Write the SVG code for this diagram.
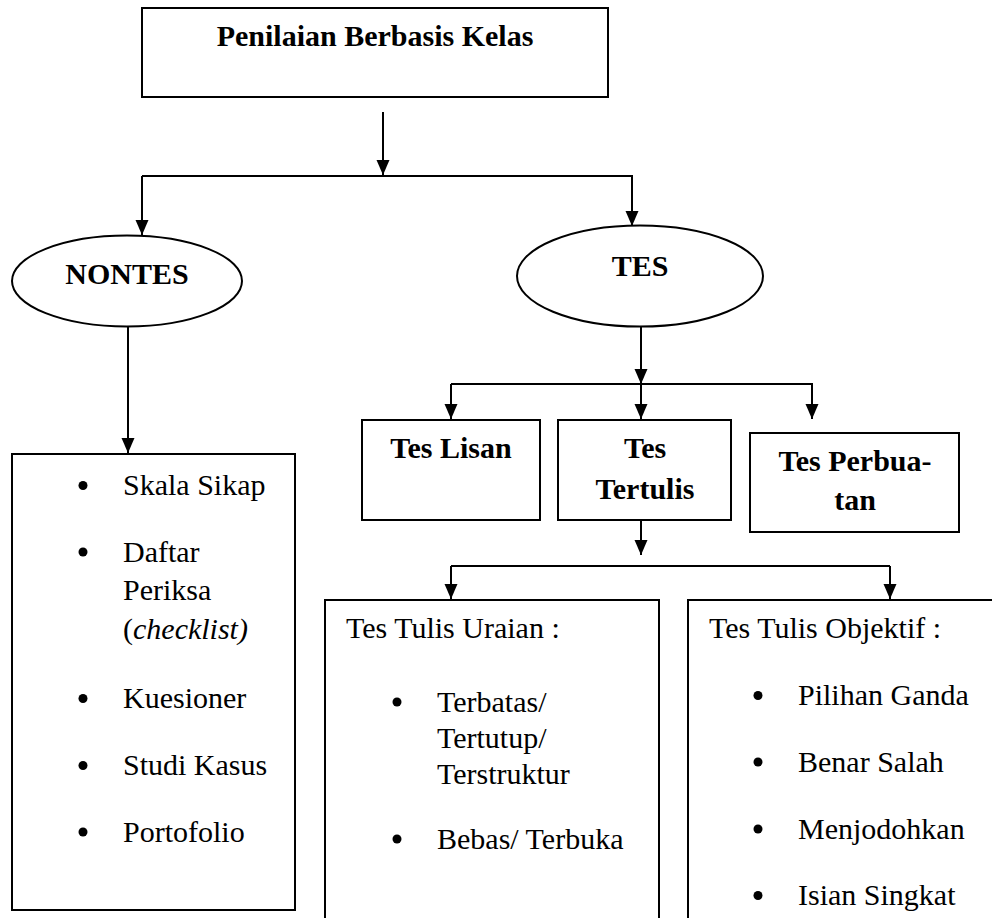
<svg xmlns="http://www.w3.org/2000/svg" width="992" height="918" viewBox="0 0 992 918">
<style>
.box{fill:#fff;stroke:#000;stroke-width:2}
.ell{fill:#fff;stroke:#000;stroke-width:2}
text{font-family:'Liberation Serif','Times New Roman',Times,'DejaVu Serif',serif;font-size:30px;fill:#000}
.b{font-weight:bold;text-anchor:middle}
.c{fill:none;stroke:#000;stroke-width:2}
.dot{fill:#000}
</style>
<defs>
<marker id="ah" markerWidth="16" markerHeight="14" refX="15" refY="6.5" orient="auto" markerUnits="userSpaceOnUse">
<path d="M0,0 L15,6.5 L0,13 z" fill="#000"/>
</marker>
</defs>
<rect width="992" height="918" fill="#fff"/>
<g id="connectors">
<line class="c" x1="383" y1="112" x2="383" y2="175" marker-end="url(#ah)"/>
<polyline class="c" points="142,176 632,176 632,226" marker-end="url(#ah)"/>
<line class="c" x1="142" y1="176" x2="142" y2="235" marker-end="url(#ah)"/>
<line class="c" x1="128" y1="327" x2="128" y2="453" marker-end="url(#ah)"/>
<line class="c" x1="641" y1="327" x2="641" y2="384" marker-end="url(#ah)"/>
<line class="c" x1="451" y1="384" x2="812" y2="384"/>
<line class="c" x1="451" y1="384" x2="451" y2="419" marker-end="url(#ah)"/>
<line class="c" x1="641" y1="384" x2="641" y2="419" marker-end="url(#ah)"/>
<line class="c" x1="812" y1="383" x2="812" y2="419" marker-end="url(#ah)"/>
<line class="c" x1="641" y1="520" x2="641" y2="555" marker-end="url(#ah)"/>
<line class="c" x1="451" y1="566" x2="890" y2="566"/>
<line class="c" x1="451" y1="566" x2="451" y2="599" marker-end="url(#ah)"/>
<line class="c" x1="890" y1="566" x2="890" y2="599" marker-end="url(#ah)"/>
</g>
<g id="penilaian">
<rect class="box" x="142" y="8" width="466" height="89"/>
<text class="b" x="375" y="46">Penilaian Berbasis Kelas</text>
</g>
<g id="nontes">
<ellipse class="ell" cx="127" cy="281" rx="115" ry="45.5"/>
<text class="b" x="127" y="284">NONTES</text>
</g>
<g id="tes">
<ellipse class="ell" cx="640" cy="276" rx="123" ry="50.5"/>
<text class="b" x="640" y="276">TES</text>
</g>
<g id="tes-lisan">
<rect class="box" x="362" y="420" width="178" height="100"/>
<text class="b" x="451" y="458">Tes Lisan</text>
</g>
<g id="tes-tertulis">
<rect class="box" x="558" y="420" width="173" height="100"/>
<text class="b" x="645" y="458">Tes</text>
<text class="b" x="645" y="499">Tertulis</text>
</g>
<g id="tes-perbuatan">
<rect class="box" x="750" y="433" width="209" height="99"/>
<text class="b" x="855" y="471">Tes Perbua-</text>
<text class="b" x="855" y="510">tan</text>
</g>
<g id="nontes-list">
<rect class="box" x="12" y="454" width="283" height="456"/>
<circle class="dot" cx="83" cy="485.5" r="4.5"/>
<text x="123" y="495">Skala Sikap</text>
<circle class="dot" cx="83" cy="552" r="4.5"/>
<text x="123" y="561.5">Daftar</text>
<text x="123" y="600">Periksa</text>
<text x="123" y="639">(<tspan font-style="italic">checklist)</tspan></text>
<circle class="dot" cx="83" cy="698.5" r="4.5"/>
<text x="123" y="708">Kuesioner</text>
<circle class="dot" cx="83" cy="765.5" r="4.5"/>
<text x="123" y="775">Studi Kasus</text>
<circle class="dot" cx="83" cy="832" r="4.5"/>
<text x="123" y="841.5">Portofolio</text>
</g>
<g id="tes-tulis-uraian">
<rect class="box" x="325" y="600" width="334" height="330"/>
<text x="346" y="638">Tes Tulis Uraian :</text>
<circle class="dot" cx="397" cy="702" r="4.5"/>
<text x="437" y="711.5">Terbatas/</text>
<text x="437" y="747.5">Tertutup/</text>
<text x="437" y="784">Terstruktur</text>
<circle class="dot" cx="397" cy="839" r="4.5"/>
<text x="437" y="848.5">Bebas/ Terbuka</text>
</g>
<g id="tes-tulis-objektif">
<rect class="box" x="688" y="600" width="320" height="330"/>
<text x="709" y="638">Tes Tulis Objektif :</text>
<circle class="dot" cx="758" cy="695.5" r="4.5"/>
<text x="798" y="705">Pilihan Ganda</text>
<circle class="dot" cx="758" cy="762" r="4.5"/>
<text x="798" y="771.5">Benar Salah</text>
<circle class="dot" cx="758" cy="829" r="4.5"/>
<text x="798" y="838.5">Menjodohkan</text>
<circle class="dot" cx="758" cy="895.5" r="4.5"/>
<text x="798" y="905">Isian Singkat</text>
</g>
</svg>
